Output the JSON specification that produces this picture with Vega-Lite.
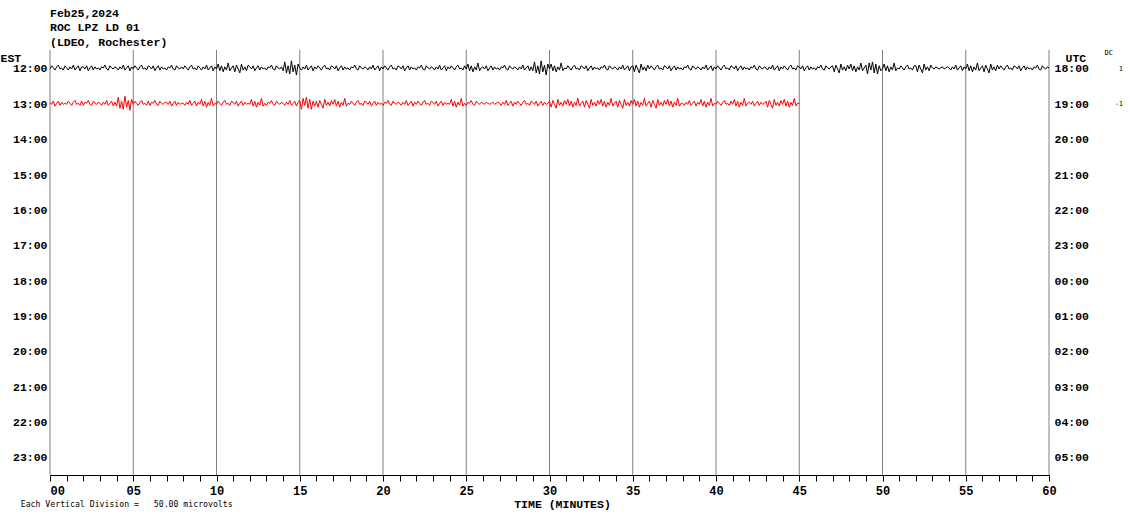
{
"$schema": "https://vega.github.io/schema/vega-lite/v6.json",
"width": 999,
"height": 425,
"autosize": {"type": "none"},
"padding": {"left": 50, "top": 50, "right": 81, "bottom": 44},
"background": "white",
"title": {"text": ["Feb25,2024", "ROC LPZ LD 01", "(LDEO, Rochester)"], "anchor": "start", "frame": "group", "font": "Liberation Mono", "fontSize": 11.5, "fontWeight": "bold", "color": "black", "lineHeight": 14.5, "baseline": "bottom", "offset": -10},
"config": {"view": {"stroke": null}},
"datasets": {
"grid": [{"m":0},{"m":5},{"m":10},{"m":15},{"m":20},{"m":25},{"m":30},{"m":35},{"m":40},{"m":45},{"m":50},{"m":55},{"m":60}],
"side": [{"x":63.84,"y":11.56,"t":"DC"},{"x":64.45,"y":12.0,"t":"1"},{"x":64.45,"y":12.98,"t":"-1"}],
"note": [{"x":-1.76,"y":24.33,"t":"Each Vertical Division =\u00a0\u00a0\u00a050.00 microvolts"}],
"blk": [
{"x":0,"y":12.00},{"x":0.1,"y":11.91},{"x":0.2,"y":11.97},{"x":0.3,"y":12.03},{"x":0.4,"y":11.94},{"x":0.5,"y":11.89},{"x":0.6,"y":12.00},{"x":0.7,"y":11.97},{"x":0.8,"y":12.03},{"x":0.9,"y":11.91},
{"x":1,"y":11.97},{"x":1.1,"y":12.03},{"x":1.2,"y":11.94},{"x":1.3,"y":12.00},{"x":1.4,"y":11.89},{"x":1.5,"y":12.03},{"x":1.6,"y":11.97},{"x":1.7,"y":11.91},{"x":1.8,"y":12.05},{"x":1.9,"y":11.94},
{"x":2,"y":11.94},{"x":2.1,"y":12.00},{"x":2.2,"y":11.91},{"x":2.3,"y":12.05},{"x":2.4,"y":11.97},{"x":2.5,"y":11.91},{"x":2.6,"y":12.03},{"x":2.7,"y":11.94},{"x":2.8,"y":12.00},{"x":2.9,"y":11.97},
{"x":3,"y":12.03},{"x":3.1,"y":11.94},{"x":3.2,"y":11.97},{"x":3.3,"y":11.89},{"x":3.4,"y":12.00},{"x":3.5,"y":12.03},{"x":3.6,"y":11.91},{"x":3.7,"y":11.97},{"x":3.8,"y":12.00},{"x":3.9,"y":11.94},
{"x":4,"y":11.97},{"x":4.1,"y":12.03},{"x":4.2,"y":11.94},{"x":4.3,"y":12.00},{"x":4.4,"y":11.89},{"x":4.5,"y":12.03},{"x":4.6,"y":11.97},{"x":4.7,"y":11.91},{"x":4.8,"y":12.05},{"x":4.9,"y":11.94},
{"x":5,"y":12.00},{"x":5.1,"y":11.91},{"x":5.2,"y":11.97},{"x":5.3,"y":12.03},{"x":5.4,"y":11.94},{"x":5.5,"y":11.89},{"x":5.6,"y":12.00},{"x":5.7,"y":11.97},{"x":5.8,"y":12.03},{"x":5.9,"y":11.91},
{"x":6,"y":11.94},{"x":6.1,"y":12.00},{"x":6.2,"y":11.91},{"x":6.3,"y":12.05},{"x":6.4,"y":11.97},{"x":6.5,"y":11.91},{"x":6.6,"y":12.03},{"x":6.7,"y":11.94},{"x":6.8,"y":12.00},{"x":6.9,"y":11.97},
{"x":7,"y":12.03},{"x":7.1,"y":11.94},{"x":7.2,"y":11.97},{"x":7.3,"y":11.89},{"x":7.4,"y":12.00},{"x":7.5,"y":12.03},{"x":7.6,"y":11.91},{"x":7.7,"y":11.97},{"x":7.8,"y":12.00},{"x":7.9,"y":11.94},
{"x":8,"y":12.00},{"x":8.1,"y":11.91},{"x":8.2,"y":11.97},{"x":8.3,"y":12.03},{"x":8.4,"y":11.94},{"x":8.5,"y":11.89},{"x":8.6,"y":12.00},{"x":8.7,"y":11.97},{"x":8.8,"y":12.03},{"x":8.9,"y":11.91},
{"x":9,"y":11.97},{"x":9.1,"y":12.03},{"x":9.2,"y":11.94},{"x":9.3,"y":12.00},{"x":9.4,"y":11.89},{"x":9.5,"y":12.03},{"x":9.6,"y":11.97},{"x":9.7,"y":11.91},{"x":9.8,"y":12.05},{"x":9.9,"y":11.94},
{"x":10,"y":12.00},{"x":10.1,"y":11.86},{"x":10.2,"y":12.05},{"x":10.3,"y":11.91},{"x":10.4,"y":12.08},{"x":10.5,"y":11.94},{"x":10.6,"y":12.03},{"x":10.7,"y":11.83},{"x":10.8,"y":12.05},{"x":10.9,"y":11.97},
{"x":11,"y":11.91},{"x":11.1,"y":12.08},{"x":11.2,"y":11.89},{"x":11.3,"y":12.00},{"x":11.4,"y":12.11},{"x":11.5,"y":11.86},{"x":11.6,"y":12.03},{"x":11.7,"y":11.94},{"x":11.8,"y":12.05},{"x":11.9,"y":11.89},
{"x":12,"y":11.94},{"x":12.1,"y":12.00},{"x":12.2,"y":11.91},{"x":12.3,"y":12.05},{"x":12.4,"y":11.97},{"x":12.5,"y":11.91},{"x":12.6,"y":12.03},{"x":12.7,"y":11.94},{"x":12.8,"y":12.00},{"x":12.9,"y":11.97},
{"x":13,"y":12.03},{"x":13.1,"y":11.94},{"x":13.2,"y":11.97},{"x":13.3,"y":11.89},{"x":13.4,"y":12.00},{"x":13.5,"y":12.03},{"x":13.6,"y":11.91},{"x":13.7,"y":11.97},{"x":13.8,"y":12.00},{"x":13.9,"y":11.94},
{"x":14,"y":12.05},{"x":14.1,"y":11.80},{"x":14.2,"y":12.11},{"x":14.3,"y":11.91},{"x":14.4,"y":12.14},{"x":14.5,"y":11.77},{"x":14.6,"y":12.08},{"x":14.7,"y":11.89},{"x":14.8,"y":12.17},{"x":14.9,"y":11.86},
{"x":15,"y":11.97},{"x":15.1,"y":12.03},{"x":15.2,"y":11.94},{"x":15.3,"y":12.00},{"x":15.4,"y":11.89},{"x":15.5,"y":12.03},{"x":15.6,"y":11.97},{"x":15.7,"y":11.91},{"x":15.8,"y":12.05},{"x":15.9,"y":11.94},
{"x":16,"y":12.00},{"x":16.1,"y":11.91},{"x":16.2,"y":11.97},{"x":16.3,"y":12.03},{"x":16.4,"y":11.94},{"x":16.5,"y":11.89},{"x":16.6,"y":12.00},{"x":16.7,"y":11.97},{"x":16.8,"y":12.03},{"x":16.9,"y":11.91},
{"x":17,"y":11.94},{"x":17.1,"y":12.00},{"x":17.2,"y":11.91},{"x":17.3,"y":12.05},{"x":17.4,"y":11.97},{"x":17.5,"y":11.91},{"x":17.6,"y":12.03},{"x":17.7,"y":11.94},{"x":17.8,"y":12.00},{"x":17.9,"y":11.97},
{"x":18,"y":12.03},{"x":18.1,"y":11.94},{"x":18.2,"y":11.97},{"x":18.3,"y":11.89},{"x":18.4,"y":12.00},{"x":18.5,"y":12.03},{"x":18.6,"y":11.91},{"x":18.7,"y":11.97},{"x":18.8,"y":12.00},{"x":18.9,"y":11.94},
{"x":19,"y":11.97},{"x":19.1,"y":12.03},{"x":19.2,"y":11.94},{"x":19.3,"y":12.00},{"x":19.4,"y":11.89},{"x":19.5,"y":12.03},{"x":19.6,"y":11.97},{"x":19.7,"y":11.91},{"x":19.8,"y":12.05},{"x":19.9,"y":11.94},
{"x":20,"y":12.00},{"x":20.1,"y":11.91},{"x":20.2,"y":11.97},{"x":20.3,"y":12.03},{"x":20.4,"y":11.94},{"x":20.5,"y":11.89},{"x":20.6,"y":12.00},{"x":20.7,"y":11.97},{"x":20.8,"y":12.03},{"x":20.9,"y":11.91},
{"x":21,"y":11.94},{"x":21.1,"y":12.00},{"x":21.2,"y":11.91},{"x":21.3,"y":12.05},{"x":21.4,"y":11.97},{"x":21.5,"y":11.91},{"x":21.6,"y":12.03},{"x":21.7,"y":11.94},{"x":21.8,"y":12.00},{"x":21.9,"y":11.97},
{"x":22,"y":12.03},{"x":22.1,"y":11.94},{"x":22.2,"y":11.97},{"x":22.3,"y":11.89},{"x":22.4,"y":12.00},{"x":22.5,"y":12.03},{"x":22.6,"y":11.91},{"x":22.7,"y":11.97},{"x":22.8,"y":12.00},{"x":22.9,"y":11.94},
{"x":23,"y":11.97},{"x":23.1,"y":12.03},{"x":23.2,"y":11.94},{"x":23.3,"y":12.00},{"x":23.4,"y":11.89},{"x":23.5,"y":12.03},{"x":23.6,"y":11.97},{"x":23.7,"y":11.91},{"x":23.8,"y":12.05},{"x":23.9,"y":11.94},
{"x":24,"y":12.00},{"x":24.1,"y":11.91},{"x":24.2,"y":11.97},{"x":24.3,"y":12.03},{"x":24.4,"y":11.94},{"x":24.5,"y":11.89},{"x":24.6,"y":12.00},{"x":24.7,"y":11.97},{"x":24.8,"y":12.03},{"x":24.9,"y":11.91},
{"x":25,"y":12.00},{"x":25.1,"y":11.86},{"x":25.2,"y":12.05},{"x":25.3,"y":11.91},{"x":25.4,"y":12.08},{"x":25.5,"y":11.94},{"x":25.6,"y":12.03},{"x":25.7,"y":11.83},{"x":25.8,"y":12.05},{"x":25.9,"y":11.97},
{"x":26,"y":11.94},{"x":26.1,"y":12.00},{"x":26.2,"y":11.91},{"x":26.3,"y":12.05},{"x":26.4,"y":11.97},{"x":26.5,"y":11.91},{"x":26.6,"y":12.03},{"x":26.7,"y":11.94},{"x":26.8,"y":12.00},{"x":26.9,"y":11.97},
{"x":27,"y":12.03},{"x":27.1,"y":11.94},{"x":27.2,"y":11.97},{"x":27.3,"y":11.89},{"x":27.4,"y":12.00},{"x":27.5,"y":12.03},{"x":27.6,"y":11.91},{"x":27.7,"y":11.97},{"x":27.8,"y":12.00},{"x":27.9,"y":11.94},
{"x":28,"y":11.97},{"x":28.1,"y":12.03},{"x":28.2,"y":11.94},{"x":28.3,"y":12.00},{"x":28.4,"y":11.89},{"x":28.5,"y":12.03},{"x":28.6,"y":11.97},{"x":28.7,"y":11.91},{"x":28.8,"y":12.05},{"x":28.9,"y":11.94},
{"x":29,"y":12.05},{"x":29.1,"y":11.80},{"x":29.2,"y":12.11},{"x":29.3,"y":11.91},{"x":29.4,"y":12.14},{"x":29.5,"y":11.77},{"x":29.6,"y":12.08},{"x":29.7,"y":11.89},{"x":29.8,"y":12.17},{"x":29.9,"y":11.86},
{"x":30,"y":12.00},{"x":30.1,"y":11.86},{"x":30.2,"y":12.05},{"x":30.3,"y":11.91},{"x":30.4,"y":12.08},{"x":30.5,"y":11.94},{"x":30.6,"y":12.03},{"x":30.7,"y":11.83},{"x":30.8,"y":12.05},{"x":30.9,"y":11.97},
{"x":31,"y":12.00},{"x":31.1,"y":11.91},{"x":31.2,"y":11.97},{"x":31.3,"y":12.03},{"x":31.4,"y":11.94},{"x":31.5,"y":11.89},{"x":31.6,"y":12.00},{"x":31.7,"y":11.97},{"x":31.8,"y":12.03},{"x":31.9,"y":11.91},
{"x":32,"y":11.94},{"x":32.1,"y":12.00},{"x":32.2,"y":11.91},{"x":32.3,"y":12.05},{"x":32.4,"y":11.97},{"x":32.5,"y":11.91},{"x":32.6,"y":12.03},{"x":32.7,"y":11.94},{"x":32.8,"y":12.00},{"x":32.9,"y":11.97},
{"x":33,"y":12.03},{"x":33.1,"y":11.94},{"x":33.2,"y":11.97},{"x":33.3,"y":11.89},{"x":33.4,"y":12.00},{"x":33.5,"y":12.03},{"x":33.6,"y":11.91},{"x":33.7,"y":11.97},{"x":33.8,"y":12.00},{"x":33.9,"y":11.94},
{"x":34,"y":11.97},{"x":34.1,"y":12.03},{"x":34.2,"y":11.94},{"x":34.3,"y":12.00},{"x":34.4,"y":11.89},{"x":34.5,"y":12.03},{"x":34.6,"y":11.97},{"x":34.7,"y":11.91},{"x":34.8,"y":12.05},{"x":34.9,"y":11.94},
{"x":35,"y":11.91},{"x":35.1,"y":12.08},{"x":35.2,"y":11.89},{"x":35.3,"y":12.00},{"x":35.4,"y":12.11},{"x":35.5,"y":11.86},{"x":35.6,"y":12.03},{"x":35.7,"y":11.94},{"x":35.8,"y":12.05},{"x":35.9,"y":11.89},
{"x":36,"y":12.00},{"x":36.1,"y":11.91},{"x":36.2,"y":11.97},{"x":36.3,"y":12.03},{"x":36.4,"y":11.94},{"x":36.5,"y":11.89},{"x":36.6,"y":12.00},{"x":36.7,"y":11.97},{"x":36.8,"y":12.03},{"x":36.9,"y":11.91},
{"x":37,"y":11.94},{"x":37.1,"y":12.00},{"x":37.2,"y":11.91},{"x":37.3,"y":12.05},{"x":37.4,"y":11.97},{"x":37.5,"y":11.91},{"x":37.6,"y":12.03},{"x":37.7,"y":11.94},{"x":37.8,"y":12.00},{"x":37.9,"y":11.97},
{"x":38,"y":12.03},{"x":38.1,"y":11.94},{"x":38.2,"y":11.97},{"x":38.3,"y":11.89},{"x":38.4,"y":12.00},{"x":38.5,"y":12.03},{"x":38.6,"y":11.91},{"x":38.7,"y":11.97},{"x":38.8,"y":12.00},{"x":38.9,"y":11.94},
{"x":39,"y":11.97},{"x":39.1,"y":12.03},{"x":39.2,"y":11.94},{"x":39.3,"y":12.00},{"x":39.4,"y":11.89},{"x":39.5,"y":12.03},{"x":39.6,"y":11.97},{"x":39.7,"y":11.91},{"x":39.8,"y":12.05},{"x":39.9,"y":11.94},
{"x":40,"y":12.00},{"x":40.1,"y":11.91},{"x":40.2,"y":11.97},{"x":40.3,"y":12.03},{"x":40.4,"y":11.94},{"x":40.5,"y":11.89},{"x":40.6,"y":12.00},{"x":40.7,"y":11.97},{"x":40.8,"y":12.03},{"x":40.9,"y":11.91},
{"x":41,"y":11.94},{"x":41.1,"y":12.00},{"x":41.2,"y":11.91},{"x":41.3,"y":12.05},{"x":41.4,"y":11.97},{"x":41.5,"y":11.91},{"x":41.6,"y":12.03},{"x":41.7,"y":11.94},{"x":41.8,"y":12.00},{"x":41.9,"y":11.97},
{"x":42,"y":12.03},{"x":42.1,"y":11.94},{"x":42.2,"y":11.97},{"x":42.3,"y":11.89},{"x":42.4,"y":12.00},{"x":42.5,"y":12.03},{"x":42.6,"y":11.91},{"x":42.7,"y":11.97},{"x":42.8,"y":12.00},{"x":42.9,"y":11.94},
{"x":43,"y":11.97},{"x":43.1,"y":12.03},{"x":43.2,"y":11.94},{"x":43.3,"y":12.00},{"x":43.4,"y":11.89},{"x":43.5,"y":12.03},{"x":43.6,"y":11.97},{"x":43.7,"y":11.91},{"x":43.8,"y":12.05},{"x":43.9,"y":11.94},
{"x":44,"y":12.00},{"x":44.1,"y":11.91},{"x":44.2,"y":11.97},{"x":44.3,"y":12.03},{"x":44.4,"y":11.94},{"x":44.5,"y":11.89},{"x":44.6,"y":12.00},{"x":44.7,"y":11.97},{"x":44.8,"y":12.03},{"x":44.9,"y":11.91},
{"x":45,"y":11.94},{"x":45.1,"y":12.00},{"x":45.2,"y":11.91},{"x":45.3,"y":12.05},{"x":45.4,"y":11.97},{"x":45.5,"y":11.91},{"x":45.6,"y":12.03},{"x":45.7,"y":11.94},{"x":45.8,"y":12.00},{"x":45.9,"y":11.97},
{"x":46,"y":12.03},{"x":46.1,"y":11.94},{"x":46.2,"y":11.97},{"x":46.3,"y":11.89},{"x":46.4,"y":12.00},{"x":46.5,"y":12.03},{"x":46.6,"y":11.91},{"x":46.7,"y":11.97},{"x":46.8,"y":12.00},{"x":46.9,"y":11.94},
{"x":47,"y":11.91},{"x":47.1,"y":12.08},{"x":47.2,"y":11.89},{"x":47.3,"y":12.00},{"x":47.4,"y":12.11},{"x":47.5,"y":11.86},{"x":47.6,"y":12.03},{"x":47.7,"y":11.94},{"x":47.8,"y":12.05},{"x":47.9,"y":11.89},
{"x":48,"y":12.00},{"x":48.1,"y":11.86},{"x":48.2,"y":12.05},{"x":48.3,"y":11.91},{"x":48.4,"y":12.08},{"x":48.5,"y":11.94},{"x":48.6,"y":12.03},{"x":48.7,"y":11.83},{"x":48.8,"y":12.05},{"x":48.9,"y":11.97},
{"x":49,"y":11.89},{"x":49.1,"y":12.14},{"x":49.2,"y":11.83},{"x":49.3,"y":12.03},{"x":49.4,"y":11.80},{"x":49.5,"y":12.11},{"x":49.6,"y":11.86},{"x":49.7,"y":12.14},{"x":49.8,"y":11.91},{"x":49.9,"y":12.05},
{"x":50,"y":12.00},{"x":50.1,"y":11.86},{"x":50.2,"y":12.05},{"x":50.3,"y":11.91},{"x":50.4,"y":12.08},{"x":50.5,"y":11.94},{"x":50.6,"y":12.03},{"x":50.7,"y":11.83},{"x":50.8,"y":12.05},{"x":50.9,"y":11.97},
{"x":51,"y":12.00},{"x":51.1,"y":11.91},{"x":51.2,"y":11.97},{"x":51.3,"y":12.03},{"x":51.4,"y":11.94},{"x":51.5,"y":11.89},{"x":51.6,"y":12.00},{"x":51.7,"y":11.97},{"x":51.8,"y":12.03},{"x":51.9,"y":11.91},
{"x":52,"y":11.91},{"x":52.1,"y":12.08},{"x":52.2,"y":11.89},{"x":52.3,"y":12.00},{"x":52.4,"y":12.11},{"x":52.5,"y":11.86},{"x":52.6,"y":12.03},{"x":52.7,"y":11.94},{"x":52.8,"y":12.05},{"x":52.9,"y":11.89},
{"x":53,"y":11.97},{"x":53.1,"y":12.00},{"x":53.2,"y":11.94},{"x":53.3,"y":11.97},{"x":53.4,"y":12.00},{"x":53.5,"y":11.97},{"x":53.6,"y":11.94},{"x":53.7,"y":12.00},{"x":53.8,"y":11.97},{"x":53.9,"y":11.94},
{"x":54,"y":11.97},{"x":54.1,"y":12.03},{"x":54.2,"y":11.94},{"x":54.3,"y":12.00},{"x":54.4,"y":11.89},{"x":54.5,"y":12.03},{"x":54.6,"y":11.97},{"x":54.7,"y":11.91},{"x":54.8,"y":12.05},{"x":54.9,"y":11.94},
{"x":55,"y":12.00},{"x":55.1,"y":11.86},{"x":55.2,"y":12.05},{"x":55.3,"y":11.91},{"x":55.4,"y":12.08},{"x":55.5,"y":11.94},{"x":55.6,"y":12.03},{"x":55.7,"y":11.83},{"x":55.8,"y":12.05},{"x":55.9,"y":11.97},
{"x":56,"y":11.91},{"x":56.1,"y":12.08},{"x":56.2,"y":11.89},{"x":56.3,"y":12.00},{"x":56.4,"y":12.11},{"x":56.5,"y":11.86},{"x":56.6,"y":12.03},{"x":56.7,"y":11.94},{"x":56.8,"y":12.05},{"x":56.9,"y":11.89},
{"x":57,"y":12.00},{"x":57.1,"y":11.91},{"x":57.2,"y":11.97},{"x":57.3,"y":12.03},{"x":57.4,"y":11.94},{"x":57.5,"y":11.89},{"x":57.6,"y":12.00},{"x":57.7,"y":11.97},{"x":57.8,"y":12.03},{"x":57.9,"y":11.91},
{"x":58,"y":11.94},{"x":58.1,"y":12.00},{"x":58.2,"y":11.91},{"x":58.3,"y":12.05},{"x":58.4,"y":11.97},{"x":58.5,"y":11.91},{"x":58.6,"y":12.03},{"x":58.7,"y":11.94},{"x":58.8,"y":12.00},{"x":58.9,"y":11.97},
{"x":59,"y":12.03},{"x":59.1,"y":11.94},{"x":59.2,"y":11.97},{"x":59.3,"y":11.89},{"x":59.4,"y":12.00},{"x":59.5,"y":12.03},{"x":59.6,"y":11.91},{"x":59.7,"y":11.97},{"x":59.8,"y":12.00},{"x":59.9,"y":11.94},
{"x":60,"y":11.97}
],
"red": [
{"x":0,"y":12.94},{"x":0.1,"y":13.00},{"x":0.2,"y":12.91},{"x":0.3,"y":13.05},{"x":0.4,"y":12.97},{"x":0.5,"y":12.91},{"x":0.6,"y":13.03},{"x":0.7,"y":12.94},{"x":0.8,"y":13.00},{"x":0.9,"y":12.97},
{"x":1,"y":13.00},{"x":1.1,"y":12.91},{"x":1.2,"y":12.97},{"x":1.3,"y":13.03},{"x":1.4,"y":12.94},{"x":1.5,"y":12.89},{"x":1.6,"y":13.00},{"x":1.7,"y":12.97},{"x":1.8,"y":13.03},{"x":1.9,"y":12.91},
{"x":2,"y":13.03},{"x":2.1,"y":12.94},{"x":2.2,"y":12.97},{"x":2.3,"y":12.89},{"x":2.4,"y":13.00},{"x":2.5,"y":13.03},{"x":2.6,"y":12.91},{"x":2.7,"y":12.97},{"x":2.8,"y":13.00},{"x":2.9,"y":12.94},
{"x":3,"y":12.97},{"x":3.1,"y":13.03},{"x":3.2,"y":12.94},{"x":3.3,"y":13.00},{"x":3.4,"y":12.89},{"x":3.5,"y":13.03},{"x":3.6,"y":12.97},{"x":3.7,"y":12.91},{"x":3.8,"y":13.05},{"x":3.9,"y":12.94},
{"x":4,"y":13.05},{"x":4.1,"y":12.80},{"x":4.2,"y":13.11},{"x":4.3,"y":12.91},{"x":4.4,"y":13.14},{"x":4.5,"y":12.77},{"x":4.6,"y":13.08},{"x":4.7,"y":12.89},{"x":4.8,"y":13.17},{"x":4.9,"y":12.86},
{"x":5,"y":13.00},{"x":5.1,"y":12.91},{"x":5.2,"y":12.97},{"x":5.3,"y":13.03},{"x":5.4,"y":12.94},{"x":5.5,"y":12.89},{"x":5.6,"y":13.00},{"x":5.7,"y":12.97},{"x":5.8,"y":13.03},{"x":5.9,"y":12.91},
{"x":6,"y":13.03},{"x":6.1,"y":12.94},{"x":6.2,"y":12.97},{"x":6.3,"y":12.89},{"x":6.4,"y":13.00},{"x":6.5,"y":13.03},{"x":6.6,"y":12.91},{"x":6.7,"y":12.97},{"x":6.8,"y":13.00},{"x":6.9,"y":12.94},
{"x":7,"y":12.94},{"x":7.1,"y":13.00},{"x":7.2,"y":12.91},{"x":7.3,"y":13.05},{"x":7.4,"y":12.97},{"x":7.5,"y":12.91},{"x":7.6,"y":13.03},{"x":7.7,"y":12.94},{"x":7.8,"y":13.00},{"x":7.9,"y":12.97},
{"x":8,"y":12.97},{"x":8.1,"y":13.03},{"x":8.2,"y":12.94},{"x":8.3,"y":13.00},{"x":8.4,"y":12.89},{"x":8.5,"y":13.03},{"x":8.6,"y":12.97},{"x":8.7,"y":12.91},{"x":8.8,"y":13.05},{"x":8.9,"y":12.94},
{"x":9,"y":13.00},{"x":9.1,"y":12.86},{"x":9.2,"y":13.05},{"x":9.3,"y":12.91},{"x":9.4,"y":13.08},{"x":9.5,"y":12.94},{"x":9.6,"y":13.03},{"x":9.7,"y":12.83},{"x":9.8,"y":13.05},{"x":9.9,"y":12.97},
{"x":10,"y":13.00},{"x":10.1,"y":12.91},{"x":10.2,"y":12.97},{"x":10.3,"y":13.03},{"x":10.4,"y":12.94},{"x":10.5,"y":12.89},{"x":10.6,"y":13.00},{"x":10.7,"y":12.97},{"x":10.8,"y":13.03},{"x":10.9,"y":12.91},
{"x":11,"y":12.94},{"x":11.1,"y":13.00},{"x":11.2,"y":12.91},{"x":11.3,"y":13.05},{"x":11.4,"y":12.97},{"x":11.5,"y":12.91},{"x":11.6,"y":13.03},{"x":11.7,"y":12.94},{"x":11.8,"y":13.00},{"x":11.9,"y":12.97},
{"x":12,"y":13.00},{"x":12.1,"y":12.86},{"x":12.2,"y":13.05},{"x":12.3,"y":12.91},{"x":12.4,"y":13.08},{"x":12.5,"y":12.94},{"x":12.6,"y":13.03},{"x":12.7,"y":12.83},{"x":12.8,"y":13.05},{"x":12.9,"y":12.97},
{"x":13,"y":13.03},{"x":13.1,"y":12.94},{"x":13.2,"y":12.97},{"x":13.3,"y":12.89},{"x":13.4,"y":13.00},{"x":13.5,"y":13.03},{"x":13.6,"y":12.91},{"x":13.7,"y":12.97},{"x":13.8,"y":13.00},{"x":13.9,"y":12.94},
{"x":14,"y":12.97},{"x":14.1,"y":13.03},{"x":14.2,"y":12.94},{"x":14.3,"y":13.00},{"x":14.4,"y":12.89},{"x":14.5,"y":13.03},{"x":14.6,"y":12.97},{"x":14.7,"y":12.91},{"x":14.8,"y":13.05},{"x":14.9,"y":12.94},
{"x":15,"y":12.89},{"x":15.1,"y":13.14},{"x":15.2,"y":12.83},{"x":15.3,"y":13.03},{"x":15.4,"y":12.80},{"x":15.5,"y":13.11},{"x":15.6,"y":12.86},{"x":15.7,"y":13.14},{"x":15.8,"y":12.91},{"x":15.9,"y":13.05},
{"x":16,"y":12.91},{"x":16.1,"y":13.08},{"x":16.2,"y":12.89},{"x":16.3,"y":13.00},{"x":16.4,"y":13.11},{"x":16.5,"y":12.86},{"x":16.6,"y":13.03},{"x":16.7,"y":12.94},{"x":16.8,"y":13.05},{"x":16.9,"y":12.89},
{"x":17,"y":13.00},{"x":17.1,"y":12.86},{"x":17.2,"y":13.05},{"x":17.3,"y":12.91},{"x":17.4,"y":13.08},{"x":17.5,"y":12.94},{"x":17.6,"y":13.03},{"x":17.7,"y":12.83},{"x":17.8,"y":13.05},{"x":17.9,"y":12.97},
{"x":18,"y":13.00},{"x":18.1,"y":12.91},{"x":18.2,"y":12.97},{"x":18.3,"y":13.03},{"x":18.4,"y":12.94},{"x":18.5,"y":12.89},{"x":18.6,"y":13.00},{"x":18.7,"y":12.97},{"x":18.8,"y":13.03},{"x":18.9,"y":12.91},
{"x":19,"y":12.94},{"x":19.1,"y":13.00},{"x":19.2,"y":12.91},{"x":19.3,"y":13.05},{"x":19.4,"y":12.97},{"x":19.5,"y":12.91},{"x":19.6,"y":13.03},{"x":19.7,"y":12.94},{"x":19.8,"y":13.00},{"x":19.9,"y":12.97},
{"x":20,"y":13.03},{"x":20.1,"y":12.94},{"x":20.2,"y":12.97},{"x":20.3,"y":12.89},{"x":20.4,"y":13.00},{"x":20.5,"y":13.03},{"x":20.6,"y":12.91},{"x":20.7,"y":12.97},{"x":20.8,"y":13.00},{"x":20.9,"y":12.94},
{"x":21,"y":12.97},{"x":21.1,"y":13.03},{"x":21.2,"y":12.94},{"x":21.3,"y":13.00},{"x":21.4,"y":12.89},{"x":21.5,"y":13.03},{"x":21.6,"y":12.97},{"x":21.7,"y":12.91},{"x":21.8,"y":13.05},{"x":21.9,"y":12.94},
{"x":22,"y":13.00},{"x":22.1,"y":12.91},{"x":22.2,"y":12.97},{"x":22.3,"y":13.03},{"x":22.4,"y":12.94},{"x":22.5,"y":12.89},{"x":22.6,"y":13.00},{"x":22.7,"y":12.97},{"x":22.8,"y":13.03},{"x":22.9,"y":12.91},
{"x":23,"y":12.94},{"x":23.1,"y":13.00},{"x":23.2,"y":12.91},{"x":23.3,"y":13.05},{"x":23.4,"y":12.97},{"x":23.5,"y":12.91},{"x":23.6,"y":13.03},{"x":23.7,"y":12.94},{"x":23.8,"y":13.00},{"x":23.9,"y":12.97},
{"x":24,"y":13.00},{"x":24.1,"y":12.86},{"x":24.2,"y":13.05},{"x":24.3,"y":12.91},{"x":24.4,"y":13.08},{"x":24.5,"y":12.94},{"x":24.6,"y":13.03},{"x":24.7,"y":12.83},{"x":24.8,"y":13.05},{"x":24.9,"y":12.97},
{"x":25,"y":13.03},{"x":25.1,"y":12.94},{"x":25.2,"y":12.97},{"x":25.3,"y":12.89},{"x":25.4,"y":13.00},{"x":25.5,"y":13.03},{"x":25.6,"y":12.91},{"x":25.7,"y":12.97},{"x":25.8,"y":13.00},{"x":25.9,"y":12.94},
{"x":26,"y":12.97},{"x":26.1,"y":13.00},{"x":26.2,"y":12.94},{"x":26.3,"y":12.97},{"x":26.4,"y":13.00},{"x":26.5,"y":12.97},{"x":26.6,"y":12.94},{"x":26.7,"y":13.00},{"x":26.8,"y":12.97},{"x":26.9,"y":12.94},
{"x":27,"y":12.97},{"x":27.1,"y":13.03},{"x":27.2,"y":12.94},{"x":27.3,"y":13.00},{"x":27.4,"y":12.89},{"x":27.5,"y":13.03},{"x":27.6,"y":12.97},{"x":27.7,"y":12.91},{"x":27.8,"y":13.05},{"x":27.9,"y":12.94},
{"x":28,"y":13.00},{"x":28.1,"y":12.91},{"x":28.2,"y":12.97},{"x":28.3,"y":13.03},{"x":28.4,"y":12.94},{"x":28.5,"y":12.89},{"x":28.6,"y":13.00},{"x":28.7,"y":12.97},{"x":28.8,"y":13.03},{"x":28.9,"y":12.91},
{"x":29,"y":12.94},{"x":29.1,"y":13.00},{"x":29.2,"y":12.91},{"x":29.3,"y":13.05},{"x":29.4,"y":12.97},{"x":29.5,"y":12.91},{"x":29.6,"y":13.03},{"x":29.7,"y":12.94},{"x":29.8,"y":13.00},{"x":29.9,"y":12.97},
{"x":30,"y":12.91},{"x":30.1,"y":13.08},{"x":30.2,"y":12.89},{"x":30.3,"y":13.00},{"x":30.4,"y":13.11},{"x":30.5,"y":12.86},{"x":30.6,"y":13.03},{"x":30.7,"y":12.94},{"x":30.8,"y":13.05},{"x":30.9,"y":12.89},
{"x":31,"y":13.00},{"x":31.1,"y":12.86},{"x":31.2,"y":13.05},{"x":31.3,"y":12.91},{"x":31.4,"y":13.08},{"x":31.5,"y":12.94},{"x":31.6,"y":13.03},{"x":31.7,"y":12.83},{"x":31.8,"y":13.05},{"x":31.9,"y":12.97},
{"x":32,"y":12.91},{"x":32.1,"y":13.08},{"x":32.2,"y":12.89},{"x":32.3,"y":13.00},{"x":32.4,"y":13.11},{"x":32.5,"y":12.86},{"x":32.6,"y":13.03},{"x":32.7,"y":12.94},{"x":32.8,"y":13.05},{"x":32.9,"y":12.89},
{"x":33,"y":13.00},{"x":33.1,"y":12.86},{"x":33.2,"y":13.05},{"x":33.3,"y":12.91},{"x":33.4,"y":13.08},{"x":33.5,"y":12.94},{"x":33.6,"y":13.03},{"x":33.7,"y":12.83},{"x":33.8,"y":13.05},{"x":33.9,"y":12.97},
{"x":34,"y":12.91},{"x":34.1,"y":13.08},{"x":34.2,"y":12.89},{"x":34.3,"y":13.00},{"x":34.4,"y":13.11},{"x":34.5,"y":12.86},{"x":34.6,"y":13.03},{"x":34.7,"y":12.94},{"x":34.8,"y":13.05},{"x":34.9,"y":12.89},
{"x":35,"y":13.00},{"x":35.1,"y":12.86},{"x":35.2,"y":13.05},{"x":35.3,"y":12.91},{"x":35.4,"y":13.08},{"x":35.5,"y":12.94},{"x":35.6,"y":13.03},{"x":35.7,"y":12.83},{"x":35.8,"y":13.05},{"x":35.9,"y":12.97},
{"x":36,"y":12.91},{"x":36.1,"y":13.08},{"x":36.2,"y":12.89},{"x":36.3,"y":13.00},{"x":36.4,"y":13.11},{"x":36.5,"y":12.86},{"x":36.6,"y":13.03},{"x":36.7,"y":12.94},{"x":36.8,"y":13.05},{"x":36.9,"y":12.89},
{"x":37,"y":13.00},{"x":37.1,"y":12.86},{"x":37.2,"y":13.05},{"x":37.3,"y":12.91},{"x":37.4,"y":13.08},{"x":37.5,"y":12.94},{"x":37.6,"y":13.03},{"x":37.7,"y":12.83},{"x":37.8,"y":13.05},{"x":37.9,"y":12.97},
{"x":38,"y":12.97},{"x":38.1,"y":13.03},{"x":38.2,"y":12.94},{"x":38.3,"y":13.00},{"x":38.4,"y":12.89},{"x":38.5,"y":13.03},{"x":38.6,"y":12.97},{"x":38.7,"y":12.91},{"x":38.8,"y":13.05},{"x":38.9,"y":12.94},
{"x":39,"y":13.00},{"x":39.1,"y":12.86},{"x":39.2,"y":13.05},{"x":39.3,"y":12.91},{"x":39.4,"y":13.08},{"x":39.5,"y":12.94},{"x":39.6,"y":13.03},{"x":39.7,"y":12.83},{"x":39.8,"y":13.05},{"x":39.9,"y":12.97},
{"x":40,"y":13.00},{"x":40.1,"y":12.91},{"x":40.2,"y":12.97},{"x":40.3,"y":13.03},{"x":40.4,"y":12.94},{"x":40.5,"y":12.89},{"x":40.6,"y":13.00},{"x":40.7,"y":12.97},{"x":40.8,"y":13.03},{"x":40.9,"y":12.91},
{"x":41,"y":13.00},{"x":41.1,"y":12.86},{"x":41.2,"y":13.05},{"x":41.3,"y":12.91},{"x":41.4,"y":13.08},{"x":41.5,"y":12.94},{"x":41.6,"y":13.03},{"x":41.7,"y":12.83},{"x":41.8,"y":13.05},{"x":41.9,"y":12.97},
{"x":42,"y":12.94},{"x":42.1,"y":13.00},{"x":42.2,"y":12.91},{"x":42.3,"y":13.05},{"x":42.4,"y":12.97},{"x":42.5,"y":12.91},{"x":42.6,"y":13.03},{"x":42.7,"y":12.94},{"x":42.8,"y":13.00},{"x":42.9,"y":12.97},
{"x":43,"y":12.91},{"x":43.1,"y":13.08},{"x":43.2,"y":12.89},{"x":43.3,"y":13.00},{"x":43.4,"y":13.11},{"x":43.5,"y":12.86},{"x":43.6,"y":13.03},{"x":43.7,"y":12.94},{"x":43.8,"y":13.05},{"x":43.9,"y":12.89},
{"x":44,"y":13.00},{"x":44.1,"y":12.86},{"x":44.2,"y":13.05},{"x":44.3,"y":12.91},{"x":44.4,"y":13.08},{"x":44.5,"y":12.94},{"x":44.6,"y":13.03},{"x":44.7,"y":12.83},{"x":44.8,"y":13.05},{"x":44.9,"y":12.97},
{"x":45,"y":12.97}
]
},
"layer": [
{
"data": {"name": "grid"},
"mark": {"type": "rule", "color": "#808080", "strokeWidth": 1},
"encoding": {
"x": {"field": "m", "type": "quantitative", "scale": {"domain": [0, 60], "nice": false, "zero": false},
"axis": {"orient": "bottom", "values": [0,1,2,3,4,5,6,7,8,9,10,11,12,13,14,15,16,17,18,19,20,21,22,23,24,25,26,27,28,29,30,31,32,33,34,35,36,37,38,39,40,41,42,43,44,45,46,47,48,49,50,51,52,53,54,55,56,57,58,59,60],
"labelExpr": "datum.value % 5 == 0 ? (datum.value < 10 ? '0' : '') + datum.value : ''",
"labelOverlap": false, "labelFlush": false,
"labelAlign": {"condition": {"test": "datum.value == 0", "value": "left"}, "value": "center"},
"labelFont": "Liberation Mono", "labelFontSize": 12, "labelFontWeight": "bold", "labelColor": "black", "labelPadding": 4,
"tickSize": 6, "tickColor": "black", "tickWidth": 1, "domainColor": "black", "domainWidth": 1, "grid": false,
"title": "TIME (MINUTES)", "titleFont": "Liberation Mono", "titleFontSize": 11.5, "titleFontWeight": "bold", "titleColor": "black",
"titleX": 512, "titleY": 32, "titleAlign": "center", "titleBaseline": "alphabetic"}}
}
},
{
"data": {"name": "blk"},
"mark": {"type": "line", "color": "black", "strokeWidth": 1, "clip": true},
"encoding": {
"x": {"field": "x", "type": "quantitative", "axis": null},
"y": {"field": "y", "type": "quantitative", "scale": {"domain": [11.463, 23.482], "reverse": true, "nice": false, "zero": false},
"axis": {"orient": "left", "values": [12,13,14,15,16,17,18,19,20,21,22,23], "labelExpr": "datum.value + ':00'",
"labelFont": "Liberation Mono", "labelFontSize": 11.5, "labelFontWeight": "bold", "labelColor": "black", "labelPadding": 3,
"ticks": false, "domain": false, "grid": false, "labelOverlap": false, "labelFlush": false, "labelBaseline": "middle",
"title": "EST", "titleAngle": 0, "titleX": -50, "titleY": 11, "titleAlign": "left", "titleBaseline": "alphabetic",
"titleFont": "Liberation Mono", "titleFontSize": 11.5, "titleFontWeight": "bold", "titleColor": "black"}}
}
},
{
"data": {"name": "red"},
"mark": {"type": "line", "color": "#ff0000", "strokeWidth": 1, "clip": true},
"encoding": {
"x": {"field": "x", "type": "quantitative", "axis": null},
"y": {"field": "y", "type": "quantitative",
"axis": {"orient": "right", "values": [12,13,14,15,16,17,18,19,20,21,22,23],
"labelExpr": "((datum.value + 6) % 24 < 10 ? '0' : '') + ((datum.value + 6) % 24) + ':00'",
"labelFont": "Liberation Mono", "labelFontSize": 11.5, "labelFontWeight": "bold", "labelColor": "black", "labelPadding": 5,
"ticks": false, "domain": false, "grid": false, "labelOverlap": false, "labelFlush": false, "labelBaseline": "middle",
"title": "UTC", "titleAngle": 0, "titleX": 16, "titleY": 11, "titleAlign": "left", "titleBaseline": "alphabetic",
"titleFont": "Liberation Mono", "titleFontSize": 11.5, "titleFontWeight": "bold", "titleColor": "black"}}
}
},
{
"data": {"name": "side"},
"mark": {"type": "text", "align": "right", "baseline": "middle", "font": "DejaVu Sans Mono", "fontSize": 7, "color": "black"},
"encoding": {
"x": {"field": "x", "type": "quantitative", "axis": null},
"y": {"field": "y", "type": "quantitative", "axis": null},
"text": {"field": "t"}
}
},
{
"data": {"name": "note"},
"mark": {"type": "text", "align": "left", "baseline": "middle", "font": "DejaVu Sans Mono", "fontSize": 8.2, "color": "black"},
"encoding": {
"x": {"field": "x", "type": "quantitative", "axis": null},
"y": {"field": "y", "type": "quantitative", "axis": null},
"text": {"field": "t"}
}
}
],
"resolve": {"axis": {"x": "independent", "y": "independent"}}
}
